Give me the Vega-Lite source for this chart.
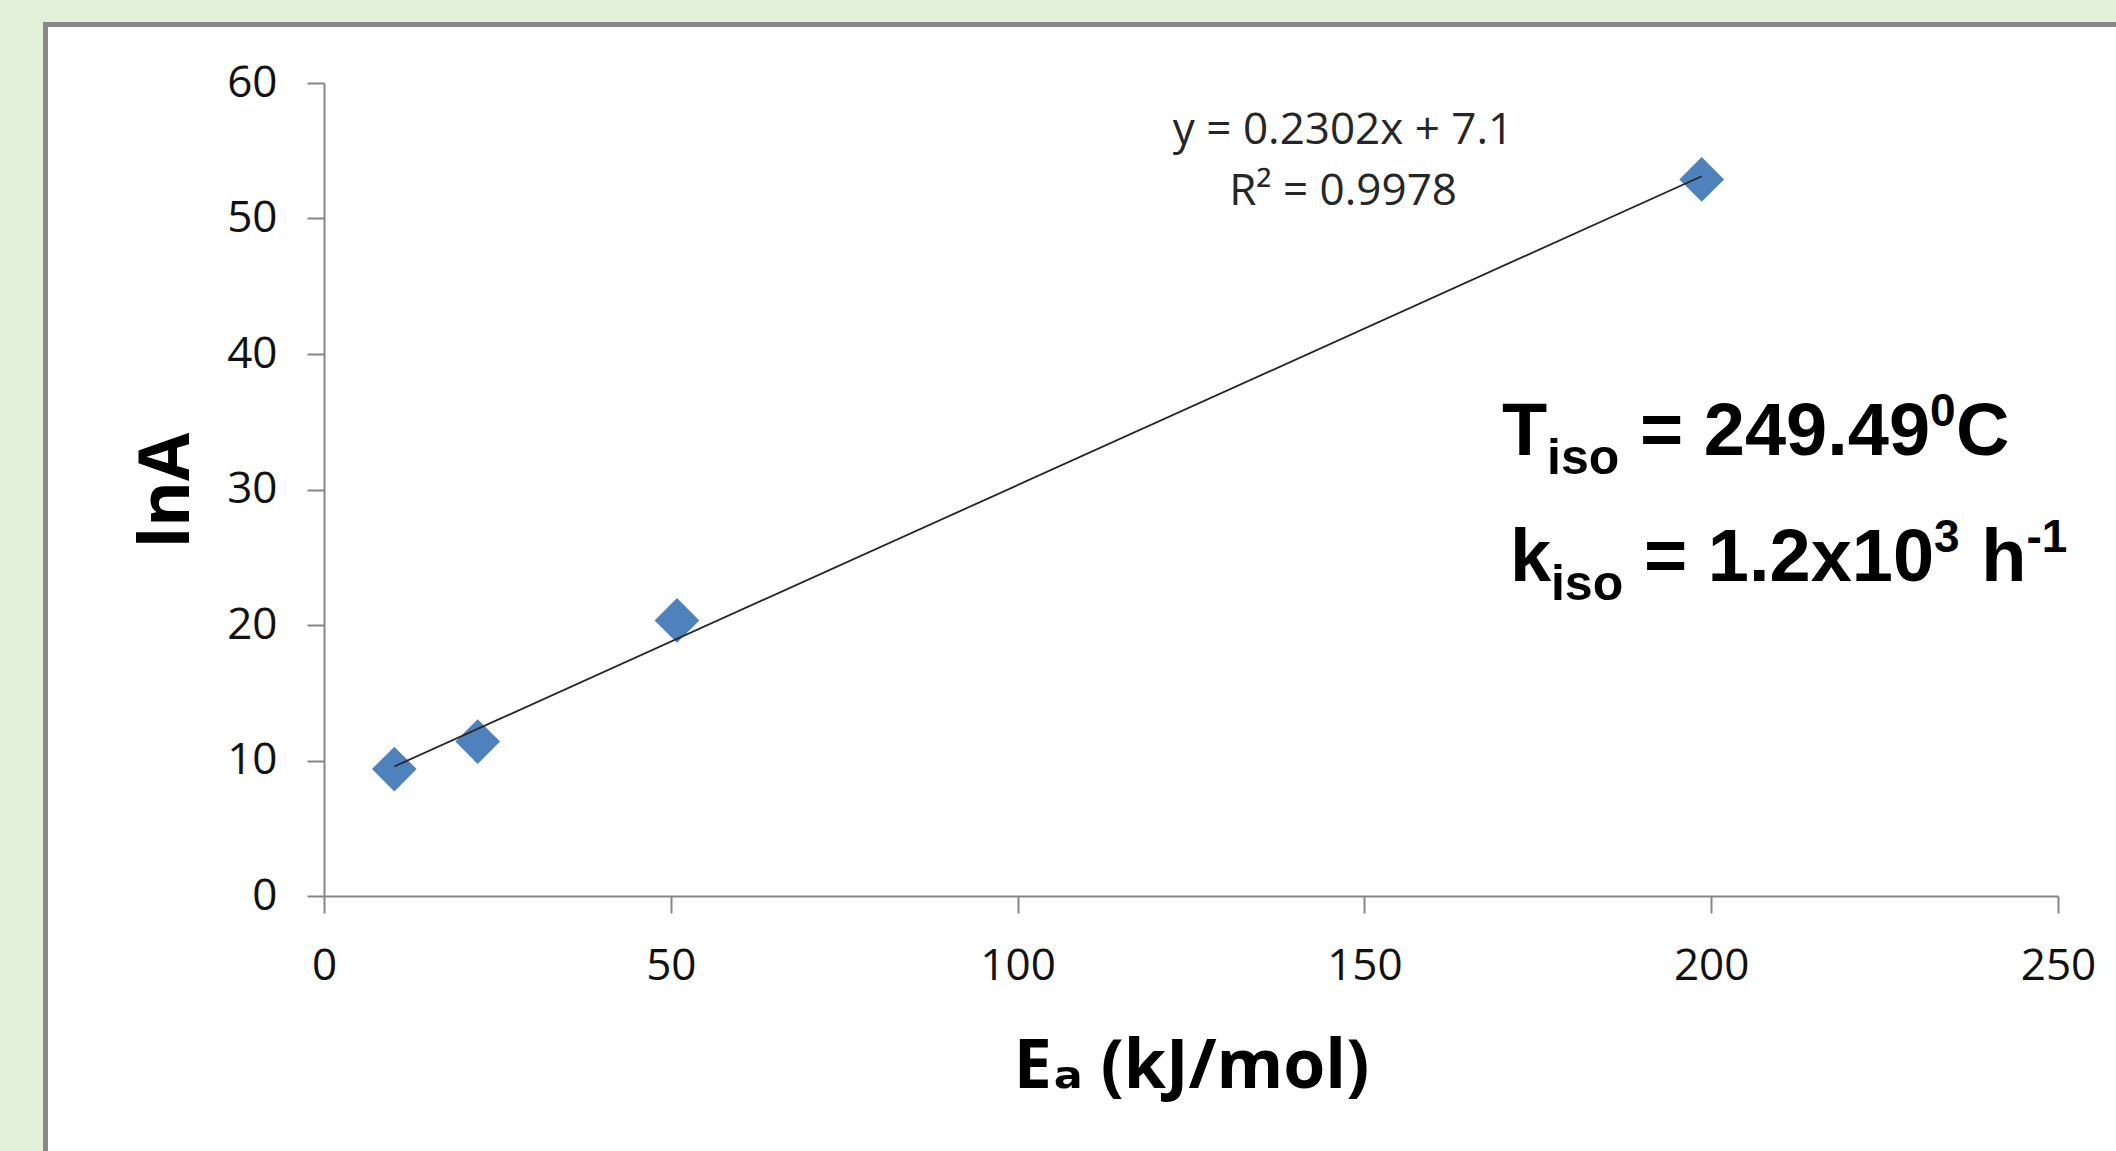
{
  "$schema": "https://vega.github.io/schema/vega-lite/v6.json",
  "width": 1734,
  "height": 813,
  "autosize": {"type": "none"},
  "padding": {"left": 324, "top": 83, "right": 58, "bottom": 255},
  "background": "#E2EFD9",
  "config": {"view": {"stroke": null}},
  "datasets": {
    "points": [
      {"Ea": 10.14, "lnA": 9.37},
      {"Ea": 22.16, "lnA": 11.40},
      {"Ea": 50.89, "lnA": 20.34},
      {"Ea": 198.63, "lnA": 52.88}
    ],
    "equation": [
      {"Ea": 146.92, "lnA": 55.5, "text": "y = 0.2302x + 7.1"},
      {"Ea": 146.92, "lnA": 51.0, "text": "R² = 0.9978"}
    ],
    "mainText": [
      {"Ea": 169.84, "lnA": 32.55, "text": "T"},
      {"Ea": 189.73, "lnA": 32.55, "text": "= 249.49"},
      {"Ea": 235.29, "lnA": 32.55, "text": "C"},
      {"Ea": 170.99, "lnA": 23.25, "text": "k"},
      {"Ea": 190.31, "lnA": 23.25, "text": "= 1.2x10"},
      {"Ea": 238.94, "lnA": 23.25, "text": "h"}
    ],
    "subText": [
      {"Ea": 176.33, "lnA": 32.55, "text": "iso"},
      {"Ea": 176.90, "lnA": 23.25, "text": "iso"}
    ],
    "supText": [
      {"Ea": 231.55, "lnA": 32.55, "text": "0"},
      {"Ea": 232.12, "lnA": 23.25, "text": "3"},
      {"Ea": 245.46, "lnA": 23.25, "text": "-1"}
    ]
  },
  "layer": [
    {
      "data": {"values": [{"kind": "frame"}]},
      "mark": {"type": "rect", "fill": "white", "stroke": "#888888", "strokeWidth": 5, "clip": false},
      "encoding": {
        "x": {"datum": -40.15, "type": "quantitative", "scale": {"domain": [0, 250], "nice": false, "zero": false}},
        "x2": {"datum": 300},
        "y": {"datum": 64.32, "type": "quantitative", "scale": {"domain": [0, 60], "nice": false, "zero": false}},
        "y2": {"datum": -30}
      }
    },
    {
      "data": {"name": "points"},
      "mark": {"type": "point", "shape": "diamond", "filled": true, "size": 2000, "color": "#4F81BD", "opacity": 1},
      "encoding": {
        "x": {
          "field": "Ea", "type": "quantitative",
          "axis": {
            "zindex": 1,
            "values": [0, 50, 100, 150, 200, 250],
            "grid": false,
            "domainColor": "#868686", "domainWidth": 2,
            "tickColor": "#868686", "tickWidth": 2, "tickSize": 17,
            "labelFont": "Open Sans", "labelFontSize": 44, "labelColor": "#111111",
            "labelBaseline": "alphabetic", "labelPadding": 66,
            "labelFlush": false, "labelOverlap": false,
            "title": "Eₐ (kJ/mol)",
            "titleFont": "Open Sans, DejaVu Sans", "titleFontSize": 68, "titleFontWeight": "bold", "titleColor": "black",
            "titleBaseline": "alphabetic", "titleAlign": "center", "titleX": 867, "titleY": 191
          }
        },
        "y": {
          "field": "lnA", "type": "quantitative",
          "axis": {
            "zindex": 1,
            "values": [0, 10, 20, 30, 40, 50, 60],
            "grid": false,
            "domainColor": "#868686", "domainWidth": 2,
            "tickColor": "#868686", "tickWidth": 2, "tickSize": 17,
            "labelFont": "Open Sans", "labelFontSize": 44, "labelColor": "#111111",
            "labelBaseline": "middle", "labelPadding": 30,
            "labelFlush": false, "labelOverlap": false,
            "title": "lnA",
            "titleFont": "Open Sans", "titleFontSize": 70, "titleFontWeight": "bold", "titleColor": "black",
            "titleAngle": 270, "titleBaseline": "alphabetic", "titleAlign": "center", "titleX": -136, "titleY": 407
          }
        }
      }
    },
    {
      "data": {"name": "points"},
      "transform": [{"regression": "lnA", "on": "Ea", "method": "linear"}],
      "mark": {"type": "line", "color": "#262626", "strokeWidth": 1.8},
      "encoding": {
        "x": {"field": "Ea", "type": "quantitative"},
        "y": {"field": "lnA", "type": "quantitative"}
      }
    },
    {
      "data": {"name": "equation"},
      "mark": {"type": "text", "font": "Open Sans", "fontSize": 44, "color": "#262626", "align": "center", "baseline": "alphabetic"},
      "encoding": {
        "x": {"field": "Ea", "type": "quantitative"},
        "y": {"field": "lnA", "type": "quantitative"},
        "text": {"field": "text"}
      }
    },
    {
      "data": {"name": "mainText"},
      "mark": {"type": "text", "font": "Liberation Sans", "fontWeight": "bold", "fontSize": 74, "color": "black", "align": "left", "baseline": "alphabetic"},
      "encoding": {
        "x": {"field": "Ea", "type": "quantitative"},
        "y": {"field": "lnA", "type": "quantitative"},
        "text": {"field": "text"}
      }
    },
    {
      "data": {"name": "subText"},
      "mark": {"type": "text", "font": "Liberation Sans", "fontWeight": "bold", "fontSize": 50, "color": "black", "align": "left", "baseline": "alphabetic", "dy": 19},
      "encoding": {
        "x": {"field": "Ea", "type": "quantitative"},
        "y": {"field": "lnA", "type": "quantitative"},
        "text": {"field": "text"}
      }
    },
    {
      "data": {"name": "supText"},
      "mark": {"type": "text", "font": "Liberation Sans", "fontWeight": "bold", "fontSize": 46, "color": "black", "align": "left", "baseline": "alphabetic", "dy": -29},
      "encoding": {
        "x": {"field": "Ea", "type": "quantitative"},
        "y": {"field": "lnA", "type": "quantitative"},
        "text": {"field": "text"}
      }
    }
  ]
}
